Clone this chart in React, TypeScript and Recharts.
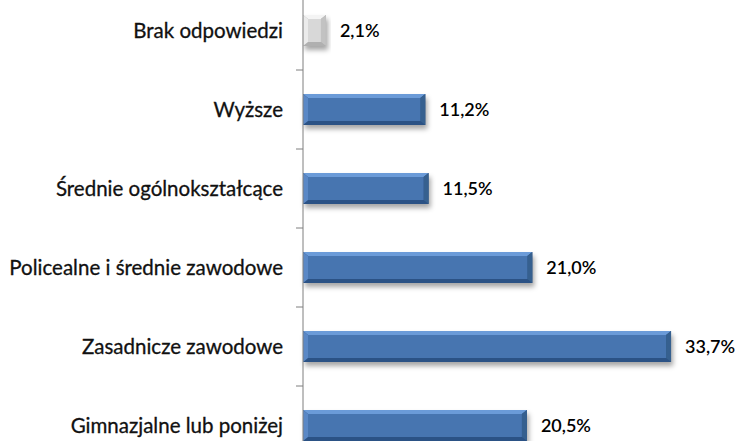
import React from 'react'
import { BarChart, Bar, XAxis, YAxis, LabelList } from 'recharts'

const categories = [
  'Brak odpowiedzi',
  'Wyższe',
  'Średnie ogólnokształcące',
  'Policealne i średnie zawodowe',
  'Zasadnicze zawodowe',
  'Gimnazjalne lub poniżej',
]
const shares = [2.1, 11.2, 11.5, 21.0, 33.7, 20.5]

const data = categories.map((name, i) => ({ name, value: shares[i] }))

const FONT = 'Lato, "Open Sans", sans-serif'

const blue = { face: '#4775b0', top: '#6b9bd8', bottom: '#2b5285', left: '#5a88c6', right: '#36608f', edge: '#2c507f' }
const grey = { face: '#d8d8d8', top: '#f4f4f4', bottom: '#b0b0b0', left: '#ebebeb', right: '#c2c2c2', edge: '#a8a8a8' }

function BevelBar(props: any) {
  const { x, y, width, height, payload } = props
  if (!width || width <= 0) return null
  const c = payload.name === 'Brak odpowiedzi' ? grey : blue
  const bx = Math.min(5, width / 2)
  const by = 4
  const x2 = x + width
  const y2 = y + height
  return (
    <g>
      <rect x={x + 2} y={y + 4} width={width} height={height} fill="rgba(0,0,0,0.35)" filter="url(#barShadow)" />
      <rect x={x} y={y} width={width} height={height} fill={c.edge} />
      <polygon points={`${x},${y} ${x2},${y} ${x2 - bx},${y + by} ${x + bx},${y + by}`} fill={c.top} />
      <polygon points={`${x},${y2} ${x2},${y2} ${x2 - bx},${y2 - by} ${x + bx},${y2 - by}`} fill={c.bottom} />
      <polygon points={`${x},${y} ${x + bx},${y + by} ${x + bx},${y2 - by} ${x},${y2}`} fill={c.left} />
      <polygon points={`${x2},${y} ${x2 - bx},${y + by} ${x2 - bx},${y2 - by} ${x2},${y2}`} fill={c.right} />
      <rect x={x + bx} y={y + by} width={Math.max(0, width - 2 * bx)} height={height - 2 * by} fill={c.face} />
    </g>
  )
}

function CategoryTick(props: any) {
  const { x, y, payload } = props
  const axisX = x + 13 + 7
  const top = y - (payload.offset || 0)
  return (
    <g>
      <text x={x} y={y} dy={7} textAnchor="end" fontSize={20.5} fontFamily={FONT} fill="#111" stroke="#111" strokeWidth={0.3}>
        {payload.value}
      </text>
      <line x1={axisX - 7} x2={axisX} y1={top} y2={top} stroke="#7f7f7f" strokeWidth={1} />
    </g>
  )
}

export default function App() {
  return (
    <div style={{ position: 'fixed', left: 0, top: 0, width: 739, height: 441, overflow: 'hidden', background: '#fff' }}>
      <div style={{ position: 'absolute', left: 0, top: -9 }}>
        <BarChart
          width={739}
          height={474}
          data={data}
          layout="vertical"
          margin={{ top: 0, right: 21, bottom: 0, left: 0 }}
          barSize={31}
        >
          <defs>
            <filter id="barShadow" x="-10%" y="-30%" width="120%" height="170%">
              <feGaussianBlur stdDeviation="2.5" />
            </filter>
          </defs>
          <XAxis type="number" domain={[0, 38]} hide />
          <YAxis
            type="category"
            dataKey="name"
            width={303}
            axisLine={{ stroke: '#7f7f7f' }}
            tickLine={false}
            tickSize={7}
            tickMargin={13}
            tick={<CategoryTick />}
            interval={0}
          />
          <Bar dataKey="value" shape={<BevelBar />} isAnimationActive={false}>
            <LabelList
              dataKey="value"
              position="right"
              offset={14}
              formatter={(v: any) => `${Number(v).toFixed(1).replace('.', ',')}%`}
              style={{ fontSize: 18, fontFamily: FONT, fontWeight: 600, fill: '#000' }}
            />
          </Bar>
        </BarChart>
      </div>
    </div>
  )
}
